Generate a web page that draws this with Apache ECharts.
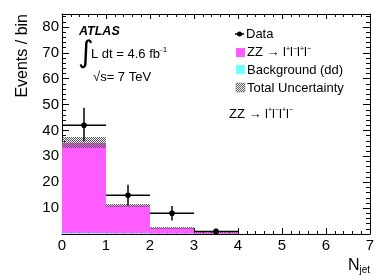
<!DOCTYPE html>
<html>
<head>
<meta charset="utf-8">
<script src="https://cdn.jsdelivr.net/npm/echarts@6/dist/echarts.min.js"></script>
<style>html,body{margin:0;padding:0;background:#fff}#c{width:390px;height:280px}</style>
</head>
<body>
<div id="c"></div>
<script>
// ---- data ----
const binLow = [0, 1, 2, 3];
const binHigh = [1, 2, 3, 4];
const bkgValues = [0.3, 0.15, 0.05, 0.0];
const zzValues = [34.9, 10.9, 2.3, 0.6];
const uncLow = [33.2, 10.4, 1.9, 0.45];
const uncHigh = [37.5, 11.6, 2.7, 0.75];
const dataValues = [42, 15, 8, 1];
const dataErrUp = [6.8, 4.0, 2.8, 1.0];
const dataErrDown = [6.2, 4.0, 2.8, 1.0];
const xTicks = [0, 1, 2, 3, 4, 5, 6, 7];
const yTicks = [10, 20, 30, 40, 50, 60, 70, 80];

const FONT = '"Liberation Sans", Arial, sans-serif';
const PINK = '#ff5cff';
const CYAN = '#70ffff';

// checker pattern for the uncertainty band
function makePattern(bg) {
  const c = document.createElement('canvas');
  c.width = 2; c.height = 2;
  const g = c.getContext('2d');
  if (bg) { g.fillStyle = bg; g.fillRect(0, 0, 2, 2); }
  g.fillStyle = '#555';
  g.fillRect(0, 0, 1, 1);
  g.fillRect(1, 1, 1, 1);
  return c;
}
const hatch = { image: makePattern(null), repeat: 'repeat' };
const hatchLegend = { image: makePattern('#fff'), repeat: 'repeat' };

const bkgData = binLow.map((lo, i) => [lo, binHigh[i], 0, bkgValues[i]]);
const zzData = binLow.map((lo, i) => [lo, binHigh[i], bkgValues[i], bkgValues[i] + zzValues[i]]);
const uncData = binLow.map((lo, i) => [lo, binHigh[i], uncLow[i], uncHigh[i]]);
const obsData = binLow.map((lo, i) => [lo, binHigh[i], dataValues[i], dataErrUp[i], dataErrDown[i]]);

function rectItem(fill) {
  return function (params, api) {
    const p0 = api.coord([api.value(0), api.value(3)]);
    const p1 = api.coord([api.value(1), api.value(2)]);
    const cs = params.coordSys;
    const shape = echarts.graphic.clipRectByRect(
      { x: p0[0], y: p0[1], width: p1[0] - p0[0], height: p1[1] - p0[1] },
      { x: cs.x, y: cs.y, width: cs.width, height: cs.height });
    return shape && { type: 'rect', shape: shape, style: { fill: fill } };
  };
}

function obsItem(params, api) {
  const lo = api.value(0), hi = api.value(1), y = api.value(2);
  const up = api.value(3), dn = api.value(4);
  const c = (lo + hi) / 2;
  const pL = api.coord([lo, y]), pR = api.coord([hi, y]);
  const pC = api.coord([c, y]);
  const pU = api.coord([c, y + up]), pD = api.coord([c, y - dn]);
  const st = { stroke: '#000', lineWidth: 1.5 };
  return {
    type: 'group',
    children: [
      { type: 'line', shape: { x1: pL[0], y1: pL[1], x2: pR[0], y2: pR[1] }, style: st },
      { type: 'line', shape: { x1: pU[0], y1: pU[1], x2: pD[0], y2: pD[1] }, style: st },
      { type: 'circle', shape: { cx: pC[0], cy: pC[1], r: 2.8 }, style: { fill: '#000' } }
    ]
  };
}

const chart = echarts.init(document.getElementById('c'), null, { renderer: 'canvas' });

const axisCommon = {
  type: 'value',
  splitLine: { show: false },
  axisLine: { show: true, onZero: false, lineStyle: { color: '#000', width: 1 } },
};

const option = {
  animation: false,
  backgroundColor: '#fff',
  grid: { left: 62, right: 20, top: 14, bottom: 46 },
  xAxis: [
    Object.assign({}, axisCommon, {
      position: 'bottom', min: xTicks[0], max: xTicks[xTicks.length - 1], interval: 1,
      axisTick: { inside: true, length: 6, lineStyle: { color: '#000' } },
      minorTick: { show: true, splitNumber: 5, length: 3, lineStyle: { color: '#000' } },
      axisLabel: { fontFamily: FONT, fontSize: 15, color: '#000', margin: 4 }
    }),
    Object.assign({}, axisCommon, {
      position: 'top', min: xTicks[0], max: xTicks[xTicks.length - 1], interval: 1,
      axisTick: { inside: true, length: 5, lineStyle: { color: '#000' } },
      minorTick: { show: true, splitNumber: 5, length: 3, lineStyle: { color: '#000' } },
      axisLabel: { show: false }
    })
  ],
  yAxis: [
    Object.assign({}, axisCommon, {
      position: 'left', min: 0, max: 85, interval: 10,
      axisTick: { inside: true, length: 7, lineStyle: { color: '#000' } },
      minorTick: { show: true, splitNumber: 5, length: 4, lineStyle: { color: '#000' } },
      axisLabel: {
        fontFamily: FONT, fontSize: 15, color: '#000', margin: 3,
        formatter: v => (yTicks.indexOf(v) >= 0 ? String(v) : '')
      }
    }),
    Object.assign({}, axisCommon, {
      position: 'right', min: 0, max: 85, interval: 10,
      axisTick: { inside: true, length: 7, lineStyle: { color: '#000' } },
      minorTick: { show: true, splitNumber: 5, length: 4, lineStyle: { color: '#000' } },
      axisLabel: { show: false }
    })
  ],
  series: [
    { name: 'ZZ', type: 'custom', renderItem: rectItem(PINK), data: zzData, z: 2,
      encode: { x: [0, 1], y: [2, 3] } },
    { name: 'Background (dd)', type: 'custom', renderItem: rectItem(CYAN), data: bkgData, z: 3,
      encode: { x: [0, 1], y: [2, 3] } },
    { name: 'Total Uncertainty', type: 'custom', renderItem: rectItem(hatch), data: uncData, z: 4,
      encode: { x: [0, 1], y: [2, 3] } },
    { name: 'Data', type: 'custom', renderItem: obsItem, data: obsData, z: 5,
      encode: { x: [0, 1], y: 2 } }
  ],
  graphic: [
    // y-axis title
    { type: 'text', x: 23, y: 14, rotation: Math.PI / 2,
      style: { text: 'Events / bin', font: '16px ' + FONT, fill: '#000', align: 'right', verticalAlign: 'middle' } },
    // x-axis title
    { type: 'text', x: 370, y: 266,
      style: { text: '{n|N}{s|jet}', align: 'right', verticalAlign: 'middle', fill: '#000',
        rich: { n: { font: '16px ' + FONT, fill: '#000' },
                s: { font: '10px ' + FONT, fill: '#000', padding: [8, 0, 0, 0] } } } },
    // ATLAS label
    { type: 'text', x: 79, y: 32,
      style: { text: 'ATLAS', font: 'italic bold 12.5px ' + FONT, fill: '#000', verticalAlign: 'middle' } },
    { type: 'text', x: 78, y: 54,
      style: { text: '∫', font: '30px "DejaVu Sans", ' + FONT, fill: '#000', verticalAlign: 'middle' } },
    { type: 'text', x: 91, y: 54,
      style: { text: '{a|L dt = 4.6 fb}{b|-1}', verticalAlign: 'middle', fill: '#000',
        rich: { a: { font: '13px ' + FONT, fill: '#000' },
                b: { font: '8px ' + FONT, fill: '#000', padding: [0, 0, 9, 0] } } } },
    { type: 'text', x: 93, y: 77,
      style: { text: '√s= 7 TeV', font: '13px ' + FONT, fill: '#000', verticalAlign: 'middle' } },
    // legend
    { type: 'line', shape: { x1: 235, y1: 34, x2: 244, y2: 34 }, style: { stroke: '#000', lineWidth: 1.5 } },
    { type: 'circle', shape: { cx: 239.5, cy: 34, r: 2.5 }, style: { fill: '#000' } },
    { type: 'text', x: 246, y: 34, style: { text: 'Data', font: '13px ' + FONT, fill: '#000', verticalAlign: 'middle' } },
    { type: 'rect', shape: { x: 236, y: 48, width: 9, height: 9 }, style: { fill: PINK } },
    { type: 'text', x: 247, y: 52.5,
      style: { text: '{a|ZZ → l}{b|+}{a|l}{b|−}{a|l}{b|+}{a|l}{b|−}', verticalAlign: 'middle', fill: '#000',
        rich: { a: { font: '13px ' + FONT, fill: '#000' }, b: { font: '7px ' + FONT, fill: '#000', padding: [0, 0, 7, 0] } } } },
    { type: 'rect', shape: { x: 236, y: 65, width: 9, height: 9 }, style: { fill: CYAN } },
    { type: 'text', x: 247, y: 70, style: { text: 'Background (dd)', font: '13px ' + FONT, fill: '#000', verticalAlign: 'middle' } },
    { type: 'rect', shape: { x: 236, y: 83, width: 9, height: 9 }, style: { fill: hatchLegend, stroke: '#777', lineWidth: 0.5 } },
    { type: 'text', x: 247, y: 88, style: { text: 'Total Uncertainty', font: '13px ' + FONT, fill: '#000', verticalAlign: 'middle' } },
    { type: 'text', x: 229, y: 114,
      style: { text: '{a|ZZ → l}{b|+}{a|l}{b|−}{a|l}{b|+}{a|l}{b|−}', verticalAlign: 'middle', fill: '#000',
        rich: { a: { font: '13px ' + FONT, fill: '#000' }, b: { font: '7px ' + FONT, fill: '#000', padding: [0, 0, 7, 0] } } } }
  ]
};
chart.setOption(option);
</script>
</body>
</html>
